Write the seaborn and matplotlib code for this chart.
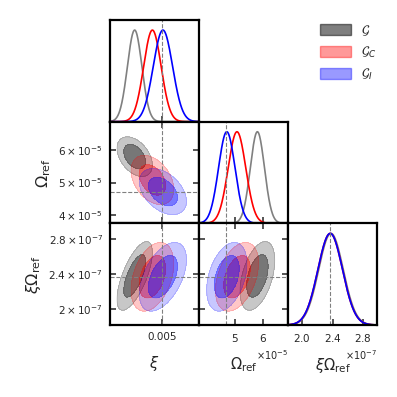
import matplotlib
matplotlib.use("Agg")
import matplotlib.pyplot as plt
import numpy as np
import seaborn as sns
from matplotlib.patches import Patch
from matplotlib.ticker import FixedLocator, FuncFormatter, ScalarFormatter

# posterior summaries for the three models
labels = [r"$\mathcal{G}$", r"$\mathcal{G}_C$", r"$\mathcal{G}_I$"]
line_colors = ["gray", "red", "blue"]
fill_colors = ["black", "red", "blue"]

xi_mean = [0.00408, 0.00467, 0.00502]
xi_std = [0.00024, 0.00029, 0.00032]
om_mean = [5.80e-5, 5.08e-5, 4.72e-5]
om_std = [0.25e-5, 0.31e-5, 0.29e-5]
xo_mean = [2.38e-7, 2.37e-7, 2.37e-7]
xo_std = [0.16e-7, 0.16e-7, 0.16e-7]

rho_xi_om = [-0.42, -0.38, -0.42]
rho_xi_xo = [0.68, 0.38, 0.5]
rho_om_xo = [0.45, 0.4, 0.38]

truth = [0.005, 4.7e-5, 2.37e-7]

param_labels = [r"$\xi$", r"$\Omega_{\rm ref}$", r"$\xi\Omega_{\rm ref}$"]
limits = [(0.00326, 0.00622), (3.74e-5, 6.88e-5), (1.82e-7, 2.98e-7)]
x_ticks = [[0.005], [5e-5, 6e-5], [2.0e-7, 2.4e-7, 2.8e-7]]
y_ticks = [[0.005], [4e-5, 5e-5, 6e-5], [2.0e-7, 2.4e-7, 2.8e-7]]

means = [xi_mean, om_mean, xo_mean]
stds = [xi_std, om_std, xo_std]
rhos = {(0, 1): rho_xi_om, (0, 2): rho_xi_xo, (1, 2): rho_om_xo}

CHI2_68 = 2.28
CHI2_95 = 5.99

sns.set_style("ticks")
plt.rcParams["font.family"] = ["DejaVu Sans"]

fig, axes = plt.subplots(3, 3, figsize=(3.97, 3.97), dpi=100)
fig.subplots_adjust(left=110 / 397, right=377 / 397, bottom=1 - 325 / 397,
                    top=1 - 20 / 397, wspace=0, hspace=0)

for i in range(3):
    for j in range(3):
        ax = axes[i, j]
        if j > i:
            ax.axis("off")
            continue
        for s in ax.spines.values():
            s.set_linewidth(1.6)
            s.set_color("black")
        ax.set_xlim(limits[j])
        if i == j:
            grid = np.linspace(limits[j][0], limits[j][1], 300)
            for k in range(3):
                pdf = np.exp(-0.5 * ((grid - means[j][k]) / stds[j][k]) ** 2)
                sns.lineplot(x=grid, y=pdf, color=line_colors[k], lw=1.2,
                             estimator=None, ax=ax)
            ax.axvline(truth[j], color="gray", ls="--", lw=0.8)
            ax.set_ylim(0, 1.11)
            ax.set_yticks([])
            ax.tick_params(direction="in", length=4.5, width=1.1,
                           top=False, left=False, right=False, bottom=True)
        else:
            gx = np.linspace(limits[j][0], limits[j][1], 220)
            gy = np.linspace(limits[i][0], limits[i][1], 220)
            X, Y = np.meshgrid(gx, gy)
            for k in range(3):
                r = rhos[(j, i)][k]
                dx = (X - means[j][k]) / stds[j][k]
                dy = (Y - means[i][k]) / stds[i][k]
                chi2 = (dx ** 2 - 2 * r * dx * dy + dy ** 2) / (1 - r ** 2)
                c = fill_colors[k]
                ax.contourf(X, Y, chi2, levels=[0, CHI2_95], colors=[c], alpha=0.22)
                ax.contourf(X, Y, chi2, levels=[0, CHI2_68], colors=[c], alpha=0.4)
                ax.contour(X, Y, chi2, levels=[CHI2_68, CHI2_95], colors=[c],
                           linewidths=0.5, alpha=0.2)
            ax.axvline(truth[j], color="gray", ls="--", lw=0.8)
            ax.axhline(truth[i], color="gray", ls="--", lw=0.8)
            ax.set_ylim(limits[i])
            ax.yaxis.set_major_locator(FixedLocator(y_ticks[i]))
            ax.tick_params(direction="in", length=4.5, width=1.1,
                           top=True, bottom=True, left=True, right=True)
        ax.xaxis.set_major_locator(FixedLocator(x_ticks[j]))
        ax.tick_params(labelsize=7.5, pad=5)

        if i == 2:
            if j == 0:
                ax.xaxis.set_major_formatter(FuncFormatter(lambda v, _: f"{v:g}"))
            else:
                fmt = ScalarFormatter(useMathText=True)
                ax.xaxis.set_major_formatter(fmt)
                ax.xaxis.get_offset_text().set_fontsize(7)
            ax.set_xlabel(param_labels[j], fontsize=10.5, labelpad=8.5)
        else:
            ax.tick_params(labelbottom=False)

        if j == 0 and i > 0:
            exp = -5 if i == 1 else -7
            ax.yaxis.set_major_formatter(FuncFormatter(
                lambda v, _, e=exp: rf"${v / 10 ** e:g}\times10^{{{e}}}$"))
            ax.set_ylabel(param_labels[i], fontsize=11.5, labelpad=4)
        elif i != j:
            ax.tick_params(labelleft=False)

handles = [Patch(facecolor=c, alpha=a, edgecolor=c)
           for c, a in zip(fill_colors, [0.5, 0.4, 0.4])]
fig.legend(handles, labels, loc="upper left", bbox_to_anchor=(320 / 397, 1 - 23 / 397),
           frameon=False, fontsize=9, handlelength=2.5, handleheight=1.0,
           handletextpad=0.8, labelspacing=0.55, borderpad=0, borderaxespad=0)

fig.savefig("out.png", dpi=100)
